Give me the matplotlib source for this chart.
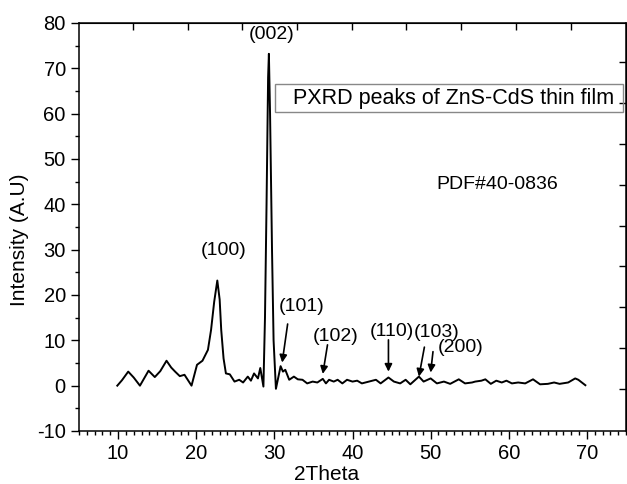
import numpy as np
import matplotlib
matplotlib.use('Agg')
import matplotlib.pyplot as plt
from matplotlib.patches import Rectangle
from matplotlib.ticker import MultipleLocator

plt.rcParams['font.family'] = ['Liberation Sans', 'DejaVu Sans']
plt.rcParams['axes.unicode_minus'] = False

# XRD pattern (2theta, intensity)
two_theta = [9.9, 10.5, 11.3, 12.0, 12.8, 13.3, 13.9, 14.7, 15.4, 16.2, 16.8, 17.3,
             17.9, 18.5, 19.4, 20.1, 20.8, 21.5, 21.9, 22.3, 22.7, 23.0, 23.2, 23.5,
             23.8, 24.3, 24.9, 25.5, 26.0, 26.6, 27.0, 27.4, 27.9, 28.2, 28.6, 28.8,
             29.0, 29.2, 29.3, 29.45, 29.7, 29.9, 30.2, 30.8, 31.1, 31.4, 31.9, 32.5,
             33.0, 33.6, 34.2, 34.9, 35.5, 36.2, 36.6, 37.0, 37.6, 38.1, 38.7, 39.3,
             40.0, 40.6, 41.2, 42.1, 43.0, 43.6, 44.6, 45.3, 46.1, 46.8, 47.4, 48.5,
             49.1, 50.0, 50.8, 51.7, 52.5, 53.6, 54.4, 55.3, 55.7, 56.5, 57.0, 57.7,
             58.4, 59.1, 59.7, 60.4, 61.2, 62.1, 63.1, 64.0, 65.0, 65.8, 66.5, 67.6,
             68.5, 68.9, 69.8]
intensity = [0.0, 1.2, 3.1, 1.8, 0.0, 1.5, 3.3, 1.9, 3.2, 5.5, 4.0, 3.1,
             2.1, 2.4, 0.0, 4.6, 5.5, 7.9, 12.3, 18.5, 23.2, 19.0, 12.3, 6.0,
             2.7, 2.5, 0.9, 1.3, 0.7, 2.0, 1.1, 2.7, 1.6, 3.9, -0.2, 15.0,
             40.0, 68.0, 73.2, 60.0, 30.0, 10.0, -0.7, 4.3, 3.1, 3.5, 1.3, 2.0,
             1.4, 1.3, 0.5, 0.9, 0.7, 1.5, 0.5, 1.3, 0.9, 1.3, 0.5, 1.3,
             0.9, 1.1, 0.5, 0.9, 1.3, 0.5, 1.8, 0.9, 0.5, 1.3, 0.3, 2.0,
             0.9, 1.6, 0.5, 0.9, 0.4, 1.4, 0.5, 0.7, 0.9, 1.1, 1.4, 0.4,
             1.1, 0.7, 1.1, 0.5, 0.7, 0.5, 1.4, 0.3, 0.4, 0.7, 0.4, 0.7,
             1.6, 1.3, 0.1]

# peak labels: text, text position, arrow tail, arrow head (None = no arrow)
peak_labels = ['(002)', '(100)', '(101)', '(102)', '(110)', '(103)', '(200)']
label_xy = [(29.7, 77.4), (23.5, 29.9), (33.5, 17.4), (37.8, 10.9),
            (45.0, 11.9), (50.8, 11.7), (53.8, 8.5)]
arrow_tail = [None, None, (31.7, 13.6), (36.8, 9.0), (44.6, 10.1), (49.2, 8.5), (50.3, 7.5)]
arrow_head = [None, None, (31.0, 5.1), (36.2, 2.6), (44.6, 3.1), (48.5, 2.0), (50.0, 2.9)]

top_ticks = [11.9, 18.9, 25.9, 32.9, 39.9, 46.9, 53.9, 60.9, 67.9]
right_ticks = [-0.7, 8.3, 17.3, 26.3, 35.3, 44.3, 53.3, 62.3, 71.3]

fig = plt.figure(figsize=(6.27, 4.84), dpi=100)
ax = fig.add_axes([79/627, 53/484, 547/627, 408/484])

ax.plot(two_theta, intensity, color='black', lw=1.4, solid_joinstyle='round')

ax.set_xlim(5, 75)
ax.set_ylim(-10, 80)
ax.xaxis.set_minor_locator(MultipleLocator(1))
ax.yaxis.set_major_locator(MultipleLocator(10))
ax.yaxis.set_minor_locator(MultipleLocator(5))
ax.set_xticks([10, 20, 30, 40, 50, 60, 70])
ax.tick_params(which='major', direction='out', length=6, width=1, labelsize=14.5)
ax.tick_params(which='minor', direction='out', length=3, width=1)
for s in ax.spines.values():
    s.set_linewidth(1.1)

secx = ax.secondary_xaxis('top')
secx.set_xticks(top_ticks)
secx.tick_params(direction='in', length=5, width=1, labeltop=False)
secy = ax.secondary_yaxis('right')
secy.set_yticks(right_ticks)
secy.tick_params(direction='in', length=5, width=1, labelright=False)

ax.set_xlabel('2Theta', fontsize=15)
ax.xaxis.set_label_coords(0.453, -0.083)
ax.set_ylabel('Intensity (A.U)', fontsize=15)
ax.yaxis.set_label_coords(-0.092, 0.468)

for lab, pos, tail, head in zip(peak_labels, label_xy, arrow_tail, arrow_head):
    ax.text(pos[0], pos[1], lab, fontsize=14, ha='center', va='center')
    if tail is not None:
        ax.annotate('', xy=head, xytext=tail,
                    arrowprops=dict(arrowstyle='-|>', color='black', lw=1.2,
                                    mutation_scale=11, shrinkA=0, shrinkB=0))

ax.add_patch(Rectangle((0.358, 0.782), 0.6365, 0.068, transform=ax.transAxes,
                       fill=False, edgecolor='#888888', lw=1))
ax.text(0.391, 0.816, 'PXRD peaks of ZnS-CdS thin film', transform=ax.transAxes,
        fontsize=15.5, ha='left', va='center')
ax.text(58.5, 44.3, 'PDF#40-0836', fontsize=14, ha='center', va='center')

fig.savefig('out.png', dpi=100)
